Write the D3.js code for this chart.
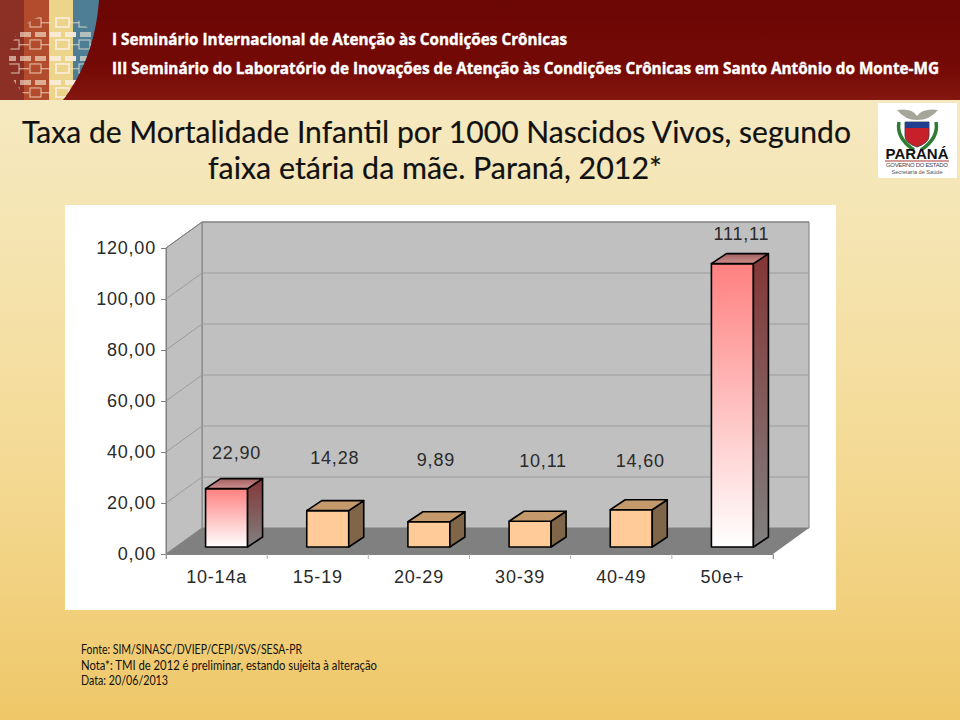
<!DOCTYPE html>
<html><head><meta charset="utf-8">
<script src="https://cdn.jsdelivr.net/npm/d3@7"></script>
<style>html,body{margin:0;padding:0;background:#f3dc9c}svg{display:block}</style>
</head><body><svg id="c" width="960" height="720"></svg>
<script>
const categories = ["10-14a","15-19","20-29","30-39","40-49","50e+"];
const values = [22.90,14.28,9.89,10.11,14.60,111.11];
const valueLabels = ["22,90","14,28","9,89","10,11","14,60","111,11"];
const highlighted = ["10-14a","50e+"];
const yTicks = [0,20,40,60,80,100,120];
const yTickLabels = ["0,00","20,00","40,00","60,00","80,00","100,00","120,00"];
const titleLines = ["Taxa de Mortalidade Infantil por 1000 Nascidos Vivos, segundo","faixa etária da mãe. Paraná, 2012*"];
const headerLines = ["I Seminário Internacional de Atenção às Condições Crônicas","III Seminário do Laboratório de Inovações de Atenção às Condições Crônicas em Santo Antônio do Monte-MG"];
const footerLines = ["Fonte: SIM/SINASC/DVIEP/CEPI/SVS/SESA-PR","Nota*: TMI de 2012 é preliminar, estando sujeita à alteração","Data: 20/06/2013"];

const svg = d3.select("#c");
const defs = svg.append("defs");
function grad(id,stops){const g=defs.append("linearGradient").attr("id",id).attr("x1",0).attr("y1",0).attr("x2",0).attr("y2",1);
  stops.forEach(s=>g.append("stop").attr("offset",s[0]).attr("stop-color",s[1]));}
grad("bg",[[0,"#f6eccb"],[0.35,"#f5e4b0"],[0.7,"#f3d78e"],[1,"#efc768"]]);
grad("hd",[[0,"#6a0604"],[0.7,"#750a06"],[1,"#84170f"]]);
grad("front",[[0,"#ff8080"],[1,"#ffffff"]]);
grad("side",[[0,"#843636"],[1,"#808080"]]);
grad("top",[[0,"#a06060"],[1,"#d09090"]]);

svg.append("rect").attr("width",960).attr("height",720).attr("fill","url(#bg)");
// header
svg.append("rect").attr("width",960).attr("height",100).attr("fill","url(#hd)");
defs.append("clipPath").attr("id","lc").append("path").attr("d","M0,0H99C96,40 84,72 63,100H0Z");
defs.append("clipPath").attr("id","gc").append("circle").attr("cx",55).attr("cy",60).attr("r",46);
const lg = svg.append("g").attr("clip-path","url(#lc)");
[[0,"#8c3026",24],[24,"#b24c2c",25],[49,"#ecd48a",24],[73,"#4d7e96",27]].forEach(s=>
  lg.append("rect").attr("x",s[0]).attr("y",0).attr("width",s[2]).attr("height",100).attr("fill",s[1]));
const globe = lg.append("g").attr("clip-path","url(#gc)");
const boxRows=[18,40,64,88], barRows=[32,56,80], cols=[8,30,56,79];
boxRows.forEach(y0=>cols.forEach((c,i)=>{
  globe.append("rect").attr("x",c).attr("y",y0).attr("width",i==2?13:11).attr("height",9)
    .attr("fill","none").attr("stroke","#f8ecd8").attr("stroke-width",i==2?1.8:1.2).attr("opacity",i==2?1:0.65);
  globe.append("rect").attr("x",c+(i==2?13:11)).attr("y",y0+4).attr("width",10).attr("height",1.4).attr("fill","#f8ecd8").attr("opacity",0.55);
}));
barRows.forEach(y0=>d3.range(5,100,15).forEach(c=>{
  globe.append("rect").attr("x",c).attr("y",y0).attr("width",11).attr("height",5).attr("fill","#f8ecd8").attr("opacity",c>48&&c<73?0.95:0.6);
}));
svg.append("g").selectAll("text").data(headerLines).join("text")
  .attr("x",112).attr("y",(d,i)=>i?74:45).attr("fill","#fff").attr("stroke","#fff").attr("stroke-width",0.4)
  .style("font","bold 15.6px 'Open Sans'").attr("textLength",(d,i)=>i?827:455).attr("lengthAdjust","spacingAndGlyphs").text(d=>d);

// Paraná crest
const cr = svg.append("g");
cr.append("rect").attr("x",878).attr("y",103).attr("width",79).attr("height",75).attr("fill","#fff");
cr.append("path").attr("d","M897,110Q912,108 917,116Q923,108 938,110Q930,120 917,120Q905,120 897,110Z").attr("fill","#a5a59a");
cr.append("path").attr("d","M899,122Q896,138 914,150M936,122Q939,138 921,150").attr("fill","none").attr("stroke","#2e7d32").attr("stroke-width",3.5);
cr.append("path").attr("d","M905,122H929V136Q929,143 917,147Q905,143 905,136Z").attr("fill","#c8202a").attr("stroke","#333").attr("stroke-width",0.8);
cr.append("rect").attr("x",905).attr("y",122).attr("width",24).attr("height",6).attr("fill","#1f3f8f");
cr.append("text").attr("x",917).attr("y",159).attr("text-anchor","middle").style("font","bold 14px 'Liberation Sans'").attr("fill","#111").attr("textLength",63).attr("lengthAdjust","spacingAndGlyphs").text("PARANÁ");
cr.append("rect").attr("x",885).attr("y",160.5).attr("width",64).attr("height",1).attr("fill","#a33");
cr.append("text").attr("x",917).attr("y",167).attr("text-anchor","middle").style("font","6px 'Liberation Sans'").attr("fill","#445").attr("textLength",62).text("GOVERNO DO ESTADO");
cr.append("text").attr("x",917).attr("y",174).attr("text-anchor","middle").style("font","5.6px 'Liberation Sans'").attr("fill","#555").text("Secretaria de Saúde");

// title
svg.append("g").selectAll("text").data(titleLines).join("text")
  .attr("x",(d,i)=>i?435:436.5).attr("y",(d,i)=>i?179:143).attr("text-anchor","middle").attr("fill","#111").attr("stroke","#111").attr("stroke-width",0.2)
  .style("font","31px Lato").attr("textLength",(d,i)=>i?454:829).attr("lengthAdjust","spacingAndGlyphs").text(d=>d);

// chart panel
svg.append("rect").attr("x",65).attr("y",205).attr("width",771).attr("height",405).attr("fill","#fff");
const x = d3.scaleBand().domain(categories).range([166,773]);
const y = d3.scaleLinear().domain([0,120]).range([554,248]);
const depthX = 36, depthY = 26;
const barW = 42, barDX = 15, barDY = 10;
const x0=x.range()[0], x1=x.range()[1];
const labelFont = "18px 'Liberation Sans'", labelSpacing = "0.8px", inkCol = "#2a2a2a";

const line = d3.line();
const chart = svg.append("g");
chart.append("path").attr("d",line([[x0+depthX,y(120)-depthY],[x1+depthX,y(120)-depthY],[x1+depthX,y(0)-depthY],[x0+depthX,y(0)-depthY]])+"Z").attr("fill","#c0c0c0").attr("stroke","#808080");
chart.append("path").attr("d",line([[x0,y(120)],[x0+depthX,y(120)-depthY],[x0+depthX,y(0)-depthY],[x0,y(0)]])+"Z").attr("fill","#c0c0c0").attr("stroke","#808080");
chart.append("path").attr("d",line([[x0,y(0)],[x0+depthX,y(0)-depthY],[x1+depthX,y(0)-depthY],[x1,y(0)]])+"Z").attr("fill","#808080");
yTicks.filter(t=>t>0).forEach(t=>{
  chart.append("path").attr("d",line([[x0,y(t)],[x0+depthX,y(t)-depthY],[x1+depthX,y(t)-depthY]])).attr("fill","none").attr("stroke",t==120?"#808080":"#9c9c9c").attr("stroke-width",1);
});
const axY = d3.axisLeft(y).tickValues(yTicks).tickSize(5).tickFormat((d,i)=>yTickLabels[i]);
const gy = chart.append("g").attr("transform",`translate(${x0},0)`).call(axY);
gy.select(".domain").attr("stroke","#808080"); gy.selectAll("line").attr("stroke","#808080");
gy.selectAll("text").attr("x",-10).attr("dy","0.32em").attr("fill",inkCol).style("font",labelFont).style("letter-spacing",labelSpacing);
const axX = d3.axisBottom(x).tickSize(5).tickSizeOuter(5).tickPadding(11);
const gx = chart.append("g").attr("transform",`translate(0,${y(0)})`).call(axX);
gx.select(".domain").attr("stroke","#808080"); gx.selectAll("line").remove();
d3.range(categories.length+1).forEach(i=>{
  gx.append("line").attr("x1",x0+i*x.step()).attr("x2",x0+i*x.step()).attr("y1",0).attr("y2",5).attr("stroke","#b0b0b0");
});
gx.selectAll(".tick text").attr("fill",inkCol).style("font",labelFont).style("letter-spacing",labelSpacing);

const frontBase = y(0)-7;
const px = 10;
const labelDX = [10,7,7,13,9,9];
const labelY = [459,464,466,467,467,240];
const bars = chart.append("g").selectAll("g").data(categories).join("g");
bars.each(function(c,i){
  const g=d3.select(this), hi=highlighted.includes(c);
  const l=x(c)+x.bandwidth()/2-barW/2+px, r=l+barW;
  const top=frontBase-(y(0)-y(values[i]));
  const add=(pts,fill)=>g.append("path").attr("d",line(pts)+"Z").attr("fill",fill).attr("stroke","#000").attr("stroke-width",1.6).attr("stroke-linejoin","round");
  add([[l,top],[r,top],[r,frontBase],[l,frontBase]],hi?"url(#front)":"#ffcc99");
  add([[r,top],[r+barDX,top-barDY],[r+barDX,frontBase-barDY],[r,frontBase]],hi?"url(#side)":"#806648");
  add([[l,top],[l+barDX,top-barDY],[r+barDX,top-barDY],[r,top]],hi?"url(#top)":"#c49a6c");
  g.append("text").attr("x",l+barW/2+labelDX[i]).attr("y",labelY[i])
    .attr("text-anchor","middle").attr("fill",inkCol).style("font",labelFont).style("letter-spacing",labelSpacing).text(valueLabels[i]);
});

svg.append("g").selectAll("text").data(footerLines).join("text")
  .attr("x",81).attr("y",(d,i)=>654+i*15.5).attr("fill","#111").style("font","12.5px 'Lato'")
  .attr("textLength",(d,i)=>[221,296,87][i]).attr("lengthAdjust","spacingAndGlyphs").text(d=>d);
</script></body></html>
